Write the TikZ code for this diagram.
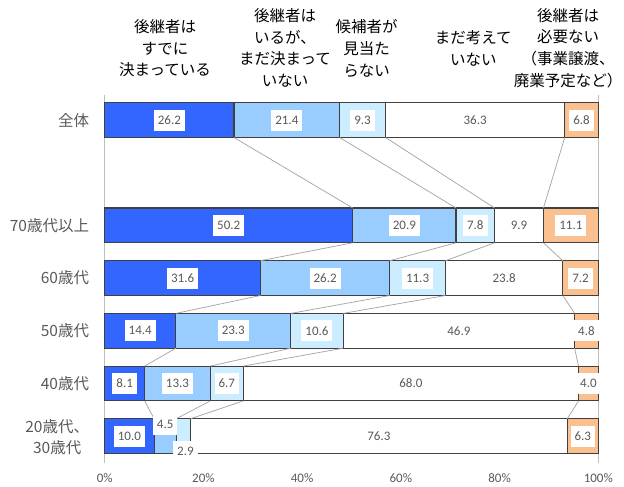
\documentclass[tikz,border=0pt]{standalone}
\usepackage{fontspec}
\newfontfamily\jp{Noto Sans CJK JP}
\newfontfamily\num{Carlito}
\definecolor{cA}{HTML}{3366FF}
\definecolor{cB}{HTML}{99CCFF}
\definecolor{cC}{HTML}{CCECFF}
\definecolor{cD}{HTML}{FFFFFF}
\definecolor{cE}{HTML}{FAC090}
\definecolor{txtgray}{HTML}{595959}
\definecolor{edgegray}{HTML}{404040}
\definecolor{conngray}{HTML}{A6A6A6}
\definecolor{axisgray}{HTML}{BFBFBF}
\tikzset{
  seg/.style={draw=edgegray, line width=1.1pt, minimum height=34.8pt, inner sep=0pt, outer sep=0pt, anchor=north west},
  val/.style={fill=white, text=txtgray, font=\num\fontsize{13}{15}\selectfont, inner xsep=4pt, inner ysep=0pt, minimum height=21pt},
  cat/.style={text=txtgray, font=\jp\fontsize{15.5}{20.6}\selectfont, anchor=east, align=center, inner sep=0pt},
  head/.style={text=black, font=\jp\fontsize{15.5}{21.7}\selectfont, align=center, inner sep=0pt},
  connector/.style={draw=conngray, line width=0.75pt},
  axisline/.style={draw=axisgray, line width=0.75pt},
  ticklab/.style={text=txtgray, font=\num\fontsize{13}{15}\selectfont, inner sep=0pt},
}
\newcommand\segrow[7]{%
  \pgfmathsetmacro\rowsum{#3+#4+#5+#6+#7}%
  \pgfmathsetmacro\rowscale{493.6/\rowsum}%
  \pgfmathsetmacro\segwa{\rowscale*#3}%
  \pgfmathsetmacro\segwb{\rowscale*#4}%
  \pgfmathsetmacro\segwc{\rowscale*#5}%
  \pgfmathsetmacro\segwd{\rowscale*#6}%
  \pgfmathsetmacro\segwe{\rowscale*#7}%
  \node[seg, fill=cA, minimum width=\segwa pt] (#1a) at (104.7,#2) {};
  \node[seg, fill=cB, minimum width=\segwb pt] (#1b) at (#1a.north east) {};
  \node[seg, fill=cC, minimum width=\segwc pt] (#1c) at (#1b.north east) {};
  \node[seg, fill=cD, minimum width=\segwd pt] (#1d) at (#1c.north east) {};
  \node[seg, fill=cE, minimum width=\segwe pt] (#1e) at (#1d.north east) {};
}
\newcommand\labrow[6]{%
  \node[val] (#1la) at (#1a) {#2};
  \node[val] (#1lb) at (#1b) {#3};
  \node[val] (#1lc) at (#1c) {#4};
  \node[val] (#1ld) at (#1d) {#5};
  \node[val] (#1le) at (#1e) {#6};
}
\begin{document}
\begin{tikzpicture}[x=1pt, y=-1pt]
\useasboundingbox (0,0) rectangle (624,487);
% axis lines
\coordinate (axtl) at (104.7,95);
\coordinate (axbl) at (104.7,462.5);
\coordinate (axtr) at (598.3,95);
\coordinate (axbr) at (598.3,462.5);
\draw[axisline] (axtl) -- (axbl);
\draw[axisline] (axtr) -- (axbr);
% headers
\node[head] (h1) at (165,48.3) {後継者は\\すでに\\決まっている};
\node[head] (h2) at (285,48) {後継者は\\いるが、\\まだ決まって\\いない};
\node[head] (h3) at (366.7,48.3) {候補者が\\見当た\\らない};
\node[head] (h4) at (473.3,48.3) {まだ考えて\\いない};
\node[head] (h5) at (568,48) {後継者は\\必要ない\\（事業譲渡、\\廃業予定など）};
% category labels
\node[cat] (k0) at (89.3,120.1) {全体};
\node[cat] (k2) at (89.3,225.4) {70歳代以上};
\node[cat] (k3) at (89.3,278.1) {60歳代};
\node[cat] (k4) at (89.3,330.8) {50歳代};
\node[cat] (k5) at (89.3,383.5) {40歳代};
\node[cat] (k6) at (89.3,437) {20歳代、\\30歳代};
% bars
\segrow{r0}{102.7}{26.2}{21.4}{9.3}{36.3}{6.8}
\segrow{r2}{208.0}{50.2}{20.9}{7.8}{9.9}{11.1}
\segrow{r3}{260.7}{31.6}{26.2}{11.3}{23.8}{7.2}
\segrow{r4}{313.4}{14.4}{23.3}{10.6}{46.9}{4.8}
\segrow{r5}{366.1}{8.1}{13.3}{6.7}{68.0}{4.0}
\segrow{r6}{418.7}{10.0}{4.5}{2.9}{76.3}{6.3}
% connectors
\foreach \u/\l in {r0/r2, r2/r3, r3/r4, r4/r5, r5/r6}
  \foreach \s in {a,b,c,d}
    \draw[connector] (\u\s.south east) -- (\l\s.north east);
% value labels
\labrow{r0}{26.2}{21.4}{9.3}{36.3}{6.8}
\labrow{r2}{50.2}{20.9}{7.8}{9.9}{11.1}
\labrow{r3}{31.6}{26.2}{11.3}{23.8}{7.2}
\labrow{r4}{14.4}{23.3}{10.6}{46.9}{4.8}
\labrow{r5}{8.1}{13.3}{6.7}{68.0}{4.0}
\node[val] (r6la) at (r6a) {10.0};
\node[val, yshift=12pt] (r6lb) at (r6b) {4.5};
\node[val, xshift=2pt, yshift=-15pt] (r6lc) at (r6c) {2.9};
\node[val] (r6ld) at (r6d) {76.3};
\node[val] (r6le) at (r6e) {6.3};
% tick labels
\foreach \k in {0,1,2,3,4,5}
  \node[ticklab] (t\k) at ({104.7+98.72*\k},478.5) {\pgfmathparse{int(20*\k)}\pgfmathresult\%};
\end{tikzpicture}
\end{document}
